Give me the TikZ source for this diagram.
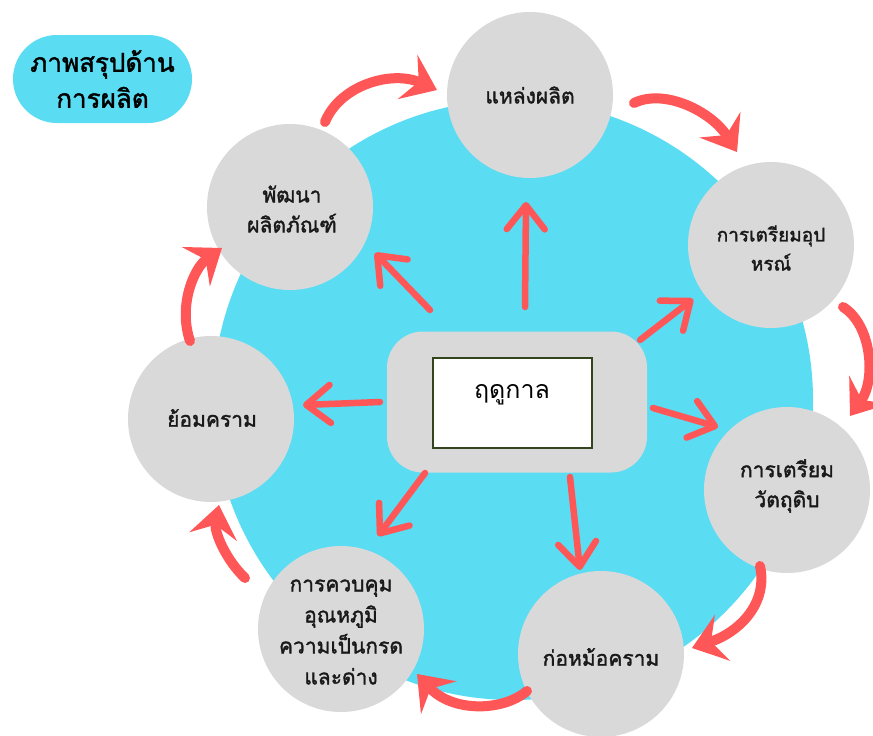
\documentclass[tikz,border=0pt]{standalone}
\usepackage{fontspec}
\newfontfamily\thai[Script=Thai]{Loma}
\newfontfamily\thaib[Script=Thai,FakeBold=1.6]{Loma}
\usetikzlibrary{arrows.meta}
\definecolor{cy}{HTML}{5ADCF3}
\definecolor{gr}{HTML}{D9D9D9}
\definecolor{rd}{HTML}{FF5757}
\definecolor{dg}{HTML}{33441F}
\tikzset{
  bub/.style={circle, fill=gr, minimum size=166pt, inner sep=0pt},
  lbl/.style={align=center, font=\thaib\fontsize{21}{30}\selectfont, text=black!90},
  rad/.style={draw=rd, line width=6.5pt, line cap=round, line join=round,
     -{Straight Barb[length=24pt,width=38pt,round]}},
  crv/.style={draw=rd, line width=10pt, line cap=round,
     -{Stealth[length=32pt,width=48pt,inset=12pt]}}
}
\begin{document}
\begin{tikzpicture}[x=1pt,y=-1pt]
\useasboundingbox[fill=white] (0,0) rectangle (873,736);
% big cyan disc
\fill[cy] (513,400) circle (300);
% title
\node[fill=cy, rounded corners=44pt, minimum width=179pt, minimum height=88pt,
  align=center, font=\thaib\fontsize{26}{36}\selectfont] (title) at (102.5,79)
  {ภาพสรุปด้าน\\การผลิต};
% centre
\node[fill=gr, rounded corners=36pt, minimum width=260pt, minimum height=141pt] (ctrbg) at (517,402) {};
\node[fill=white, draw=dg, line width=1.5pt, minimum width=159pt, minimum height=90pt] (ctr) at (512.5,403) {};
\node[font=\thai\fontsize{25}{30}\selectfont] (ctrl) at (512,395) {ฤดูกาล};
% circles
\node[bub] (c1) at (530,95) {};
\node[bub] (c2) at (771,245) {};
\node[bub] (c3) at (787,490) {};
\node[bub] (c4) at (601,654) {};
\node[bub] (c5) at (341,629) {};
\node[bub] (c6) at (211,419) {};
\node[bub] (c7) at (290,207) {};
\node[lbl] (l1) at (c1) {แหล่งผลิต};
\node[lbl, font=\thaib\fontsize{19}{29}\selectfont] (l2) at (771,248) {การเตรียมอุป\\หรณ์};
\node[lbl] (l3) at (787,486) {การเตรียม\\วัตถุดิบ};
\node[lbl] (l4) at (601,657) {ก่อหม้อคราม};
\node[lbl, font=\thaib\fontsize{21}{31}\selectfont] (l5) at (341,632) {การควบคุม\\อุณหภูมิ\\ความเป็นกรด\\และด่าง};
\node[lbl] (l6) at (212,418) {ย้อมคราม};
\node[lbl] (l7) at (292,209) {พัฒนา\\ผลิตภัณฑ์};
% radial arrow ends
\coordinate (r1s) at (525,307); \coordinate (r1e) at (526,202);
\coordinate (r2s) at (640,340); \coordinate (r2e) at (693,299);
\coordinate (r3s) at (653,408); \coordinate (r3e) at (718,427);
\coordinate (r4s) at (570,477); \coordinate (r4e) at (580,570);
\coordinate (r5s) at (425,473); \coordinate (r5e) at (378,536);
\coordinate (r6s) at (380,402); \coordinate (r6e) at (303,405);
\coordinate (r7s) at (430,310); \coordinate (r7e) at (375,253);
\foreach \i in {1,...,7} \draw[rad] (r\i s) -- (r\i e);
% curved arrow ends
\coordinate (aS) at (325,122); \coordinate (aE) at (437,90);
\coordinate (bS) at (634,103); \coordinate (bE) at (737,152);
\coordinate (cS) at (843,307); \coordinate (cE) at (850,416);
\coordinate (dS) at (760,566); \coordinate (dE) at (692,648);
\coordinate (eS) at (527,691); \coordinate (eE) at (417,674);
\coordinate (fS) at (245,578); \coordinate (fE) at (219,505);
\coordinate (gS) at (190,341); \coordinate (gE) at (222,248);
\draw[crv] (aS) .. controls (340,85) and (392,70) .. (aE);
\draw[crv] (bS) .. controls (665,88) and (712,112) .. (bE);
\draw[crv] (cS) .. controls (872,325) and (876,380) .. (cE);
\draw[crv] (dS) .. controls (768,603) and (740,632) .. (dE);
\draw[crv] (eS) .. controls (502,712) and (452,712) .. (eE);
\draw[crv] (fS) .. controls (226,560) and (214,532) .. (fE);
\draw[crv] (gS) .. controls (178,305) and (194,268) .. (gE);
\end{tikzpicture}
\end{document}
